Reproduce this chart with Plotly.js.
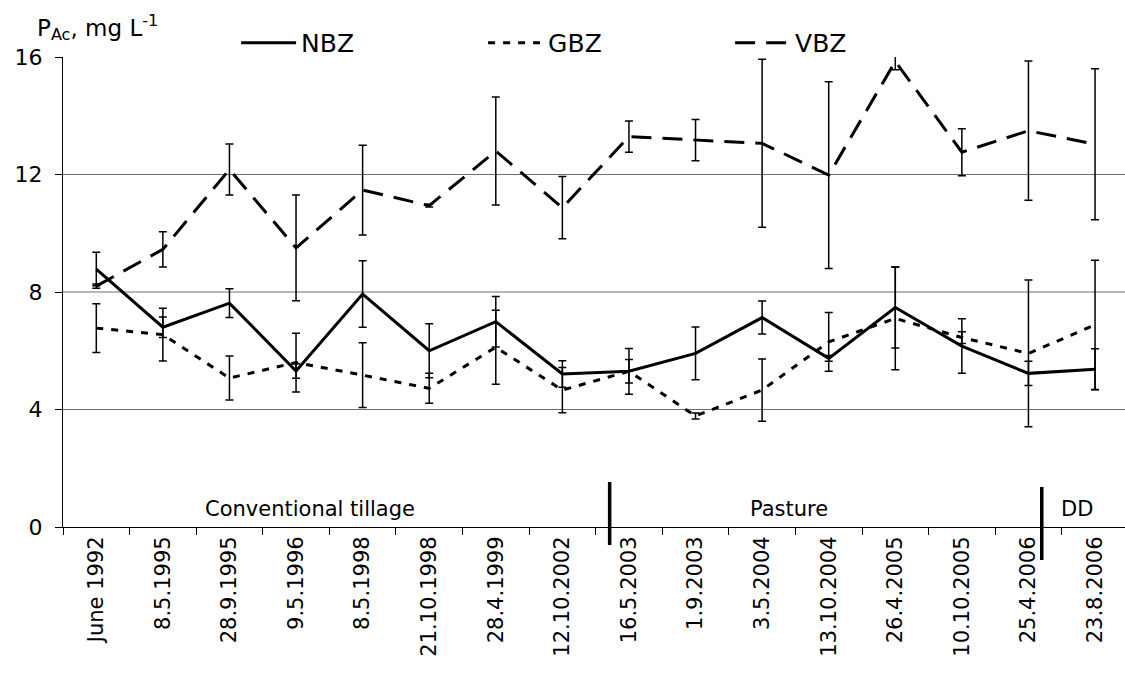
<!DOCTYPE html>
<html>
<head>
<meta charset="utf-8">
<script src="https://cdn.plot.ly/plotly-3.0.1.min.js"></script>
<style>html,body{margin:0;padding:0;background:#fff;}#chart{width:1125px;height:673px;}</style>
</head>
<body>
<div id="chart"></div>
<script>
var categories = ["June 1992","8.5.1995","28.9.1995","9.5.1996","8.5.1998","21.10.1998","28.4.1999","12.10.2002","16.5.2003","1.9.2003","3.5.2004","13.10.2004","26.4.2005","10.10.2005","25.4.2006","23.8.2006"];

var nbz    = [8.78, 6.80, 7.62, 5.31, 7.93, 6.00, 6.99, 5.21, 5.30, 5.91, 7.13, 5.74, 7.47, 6.16, 5.23, 5.37];
var nbzErr = [0.57, 0.35, 0.49, 0.25, 1.13, 0.92, 0.86, 0.45, 0.78, 0.90, 0.56, 0.10, 1.38, 0.93, 0.41, 0.70];

var gbz    = [6.77, 6.55, 5.07, 5.60, 5.17, 4.72, 6.12, 4.66, 5.30, 3.78, 4.66, 6.30, 7.10, 6.45, 5.91, 6.88];
var gbzErr = [0.83, 0.90, 0.75, 1.00, 1.10, 0.51, 1.26, 0.77, 0.40, 0.10, 1.06, 1.00, 1.75, 0.20, 2.50, 2.20];

var vbz    = [8.20, 9.45, 12.17, 9.50, 11.47, 10.94, 12.80, 10.87, 13.29, 13.17, 13.06, 11.98, 15.85, 12.76, 13.49, 13.03];
var vbzErr = [0.07, 0.60, 0.87, 1.80, 1.53, 0.05, 1.84, 1.06, 0.53, 0.70, 2.86, 3.18, 0.28, 0.80, 2.37, 2.57];

var seriesNames = ["NBZ", "GBZ", "VBZ"];
var yTicks = [0, 4, 8, 12, 16];
var gridValues = [4, 8, 12];
var periodLabels = ["Conventional tillage", "Pasture", "DD"];

var font = "DejaVu Sans, Verdana, sans-serif";

function mk(name, y, err, dash) {
  return {
    type: "scatter", mode: "lines", name: name,
    x: categories, y: y,
    line: {color: "#000", width: 3, dash: dash},
    error_y: {type: "data", array: err, visible: true, color: "#000", thickness: 1.5, width: 4},
    cliponaxis: true
  };
}

var data = [
  mk(seriesNames[0], nbz, nbzErr, "solid"),
  mk(seriesNames[1], gbz, gbzErr, "7px,8px"),
  mk(seriesNames[2], vbz, vbzErr, "20px,11px")
];

var shapes = gridValues.map(function(v){
  return {type:"line", xref:"paper", yref:"y", x0:0, x1:1, y0:v, y1:v, layer:"below",
          line:{color:"#6e6e6e", width:1}};
});
shapes.push({type:"line", xref:"x", yref:"paper", x0:7.71, x1:7.71, y0:0.0957, y1:-0.0383, line:{color:"#000", width:3.5}});
shapes.push({type:"line", xref:"x", yref:"paper", x0:14.2, x1:14.2, y0:0.0851, y1:-0.0702, line:{color:"#000", width:3.5}});

var periodX = [3.21, 10.41, 14.73];
var annotations = periodLabels.map(function(t, i){
  return {text: t, xref:"x", yref:"y", x: periodX[i], y: 0.61, showarrow:false,
          xanchor:"center", yanchor:"middle", font:{family:font, size:21, color:"#000"}};
});
annotations.push({text:"P<sub>Ac</sub>, mg L<sup>-1</sup>", xref:"paper", yref:"paper",
  x:-0.0264, y:1.062, xanchor:"left", yanchor:"middle", showarrow:false,
  font:{family:font, size:23, color:"#000"}});

var layout = {
  width:1125, height:673,
  margin:{l:63, r:0, t:57, b:146, pad:0},
  paper_bgcolor:"#fff", plot_bgcolor:"#fff",
  showlegend:true,
  legend:{orientation:"h", x:0.163, xanchor:"left", y:1.03, yanchor:"middle",
          entrywidth:177, entrywidthmode:"pixels", itemwidth:55,
          font:{family:font, size:25, color:"#000"}, bgcolor:"rgba(0,0,0,0)", traceorder:"normal"},
  xaxis:{type:"category", range:[-0.5, 15.45], tickson:"boundaries", ticks:"outside", ticklen:7,
         tickcolor:"#000", showline:true, linecolor:"#000", linewidth:1, showgrid:false, zeroline:false,
         tickangle:-90, tickfont:{family:font, size:21, color:"#000"}},
  yaxis:{range:[0,16], tickvals:yTicks, ticks:"outside", ticklen:7, tickcolor:"#000",
         showline:true, linecolor:"#000", linewidth:1, showgrid:false, zeroline:false,
         ticklabelstandoff:8, tickfont:{family:font, size:22, color:"#000"}},
  shapes: shapes,
  annotations: annotations
};

Plotly.newPlot("chart", data, layout, {displayModeBar:false, staticPlot:true});
</script>
</body>
</html>
